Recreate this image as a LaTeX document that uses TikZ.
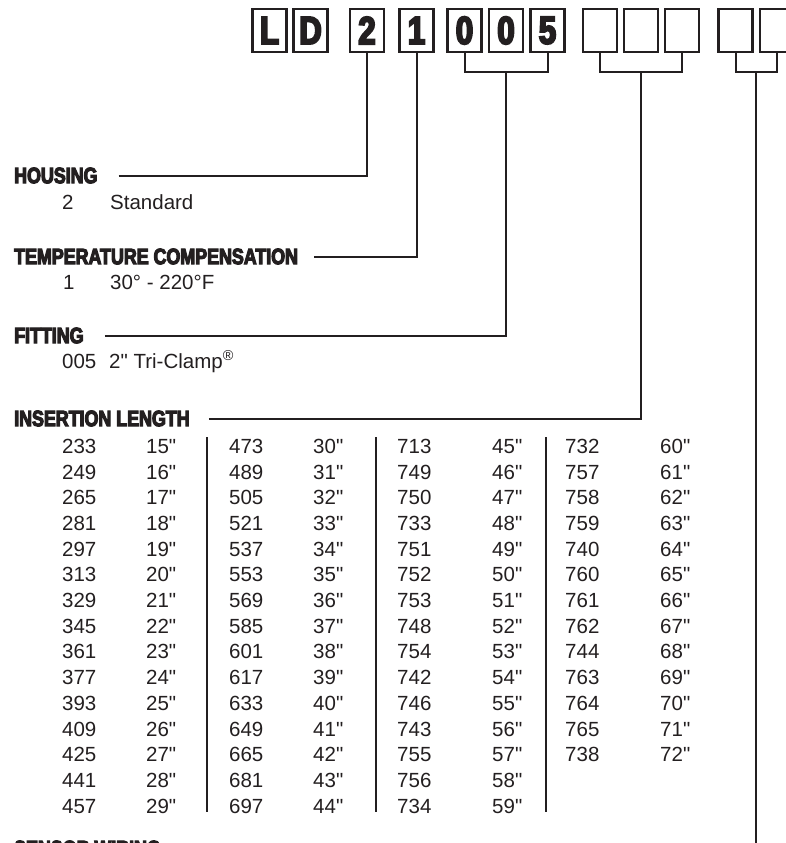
\documentclass[tikz,border=0pt]{standalone}
\usepackage{fontspec}
\setmainfont{Liberation Sans}[Ligatures=TeXOff]
\newfontfamily\headfont[FakeStretch=0.8,FakeBold=5]{Liberation Sans Bold}
\usetikzlibrary{calc}
\definecolor{ink}{RGB}{35,31,32}
\tikzset{
  codebox/.style={draw=ink,line width=2.4pt,minimum width=34pt,minimum height=43pt,inner sep=0pt,
    text=ink,font=\headfont\fontsize{39}{39}\selectfont},
  heading/.style={anchor=west,inner sep=0pt,text=ink,font=\headfont\fontsize{22.3}{24}\selectfont},
  entry/.style={anchor=base west,inner sep=0pt,text=ink,font=\fontsize{20.5}{24}\selectfont},
  leader/.style={draw=ink,line width=2pt},
  rule/.style={draw=ink,line width=2pt}
}
\begin{document}
\begin{tikzpicture}[x=1pt,y=-1pt]
\useasboundingbox (0,0) rectangle (786,843);

\node[codebox] (boxL) at (269.5,30.5) {L};
\node[codebox] (boxD) at (310.5,30.5) {D};
\node[codebox] (boxH) at (367,30.5) {2};
\node[codebox] (boxT) at (416.5,30.5) {1};
\node[codebox] (boxF1) at (464.5,30.5) {0};
\node[codebox] (boxF2) at (506,30.5) {0};
\node[codebox] (boxF3) at (547.5,30.5) {5};
\node[codebox] (boxI1) at (600,30.5) {};
\node[codebox] (boxI2) at (641,30.5) {};
\node[codebox] (boxI3) at (682,30.5) {};
\node[codebox] (boxW1) at (735.5,30.5) {};
\node[codebox] (boxW2) at (777,30.5) {};
\coordinate (brk) at (0,72);
\coordinate (wmid) at ($(boxW1)!0.5!(boxW2)$);

\node[heading] (housing) at (14,175.5) {HOUSING};
\node[entry] (hs-code) at (62,209) {2};
\node[entry] (hs-text) at (110,209) {Standard};

\node[heading] (tempcomp) at (14,256.5) {TEMPERATURE COMPENSATION};
\node[entry] (tc-code) at (63,289) {1};
\node[entry] (tc-text) at (110,289) {30° - 220°F};

\node[heading] (fitting) at (14,335.5) {FITTING};
\node[entry] (ft-code) at (62,368) {005};
\node[entry] (ft-text) at (109,368) {2" Tri-Clamp\textsuperscript{®}};

\node[heading] (insertion) at (14,418.5) {INSERTION LENGTH};
\node[heading] (wiring) at (14,848.5) {SENSOR WIRING};

\draw[leader] ([xshift=21pt]housing.east) -| (boxH.south);
\draw[leader] ([xshift=16pt]tempcomp.east) -| (boxT.south);
\draw[leader] (boxF1.south) |- (boxF3 |- brk) -- (boxF3.south);
\draw[leader] ([xshift=21pt]fitting.east) -| (boxF2 |- brk);
\draw[leader] (boxI1.south) |- (boxI3 |- brk) -- (boxI3.south);
\draw[leader] ([xshift=19pt]insertion.east) -| (boxI2 |- brk);
\draw[leader] (boxW1.south) |- (boxW2 |- brk) -- (boxW2.south);
\draw[leader] ([xshift=18pt]wiring.east) -| (wmid |- brk);

\foreach \code/\len [count=\r from 0] in {233/15,249/16,265/17,281/18,297/19,313/20,329/21,345/22,361/23,377/24,393/25,409/26,425/27,441/28,457/29}{
  \node[entry] (code1-\r) at (62,{453.3+25.7*\r}) {\code};
  \node[entry] (inch1-\r) at (146,{453.3+25.7*\r}) {\len"};
}
\foreach \code/\len [count=\r from 0] in {473/30,489/31,505/32,521/33,537/34,553/35,569/36,585/37,601/38,617/39,633/40,649/41,665/42,681/43,697/44}{
  \node[entry] (code2-\r) at (229,{453.3+25.7*\r}) {\code};
  \node[entry] (inch2-\r) at (313,{453.3+25.7*\r}) {\len"};
}
\foreach \code/\len [count=\r from 0] in {713/45,749/46,750/47,733/48,751/49,752/50,753/51,748/52,754/53,742/54,746/55,743/56,755/57,756/58,734/59}{
  \node[entry] (code3-\r) at (397,{453.3+25.7*\r}) {\code};
  \node[entry] (inch3-\r) at (492,{453.3+25.7*\r}) {\len"};
}
\foreach \code/\len [count=\r from 0] in {732/60,757/61,758/62,759/63,740/64,760/65,761/66,762/67,744/68,763/69,764/70,765/71,738/72}{
  \node[entry] (code4-\r) at (565,{453.3+25.7*\r}) {\code};
  \node[entry] (inch4-\r) at (660,{453.3+25.7*\r}) {\len"};
}
\draw[rule] (207,437) -- (207,812);
\draw[rule] (376,437) -- (376,812);
\draw[rule] (546,437) -- (546,812);
\end{tikzpicture}
\end{document}
